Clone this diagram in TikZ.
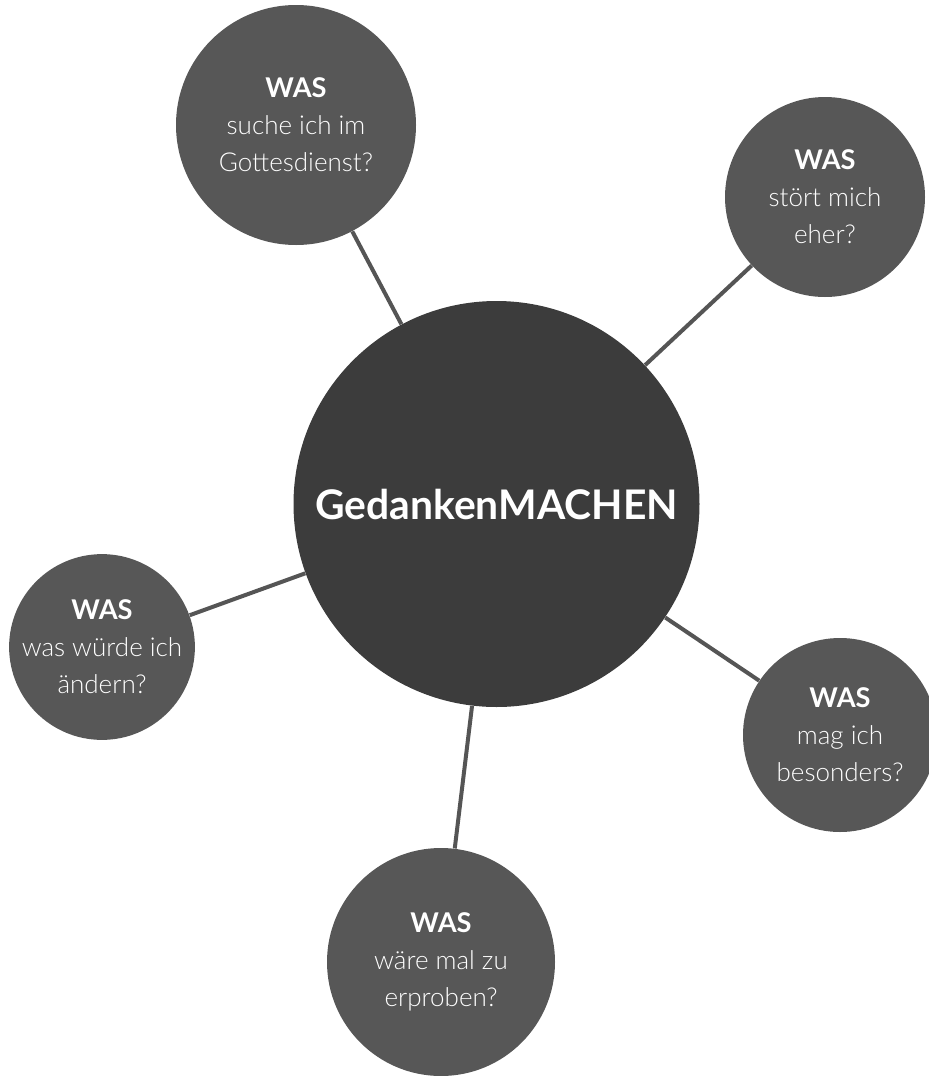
\documentclass[tikz,border=0pt]{standalone}
\usepackage{fontspec}
\setmainfont{Lato}[UprightFont={* Light}, BoldFont={* Bold}]
\usepackage{tikz}
\definecolor{hubgray}{HTML}{3C3C3C}
\definecolor{spokegray}{HTML}{575757}
\definecolor{linkgray}{HTML}{555555}
\newcommand{\wasfrage}[2]{{\fontsize{13.6}{18.5}\selectfont\textbf{WAS}}\\#1\\#2}
\tikzset{
  hub/.style      = {circle, fill=hubgray, text=white, inner sep=0pt,
                     minimum size=406*0.5pt, font=\bfseries\fontsize{20.4}{24}\selectfont},
  question/.style = {circle, fill=spokegray, text=white, inner sep=0pt, align=center,
                     minimum size=#1, font=\fontsize{13}{18.5}\selectfont},
  link/.style     = {linkgray, line width=2pt}
}

\begin{document}
\begin{tikzpicture}[x=0.5pt, y=-0.5pt]
  \useasboundingbox (0,0) rectangle (929,1076);
  \node[hub] (hub) at (496.5,504) {GedankenMACHEN};
  \node[question=120pt] (suche)    at (296,125) {\wasfrage{suche ich im}{Gottesdienst?}};
  \node[question=100pt] (stoert)   at (825,197) {\wasfrage{stört mich}{eher?}};
  \node[question=92pt]  (aendern)  at (102,647) {\wasfrage{was würde ich}{ändern?}};
  \node[question=97pt]  (mag)      at (840,735) {\wasfrage{mag ich}{besonders?}};
  \node[question=114pt] (erproben) at (441,962) {\wasfrage{wäre mal zu}{erproben?}};
  \draw[link] (hub) -- (suche);
  \draw[link] (hub) -- (stoert);
  \draw[link] (hub) -- (aendern);
  \draw[link] (hub) -- (mag);
  \draw[link] (hub) -- (erproben);
\end{tikzpicture}
\end{document}
